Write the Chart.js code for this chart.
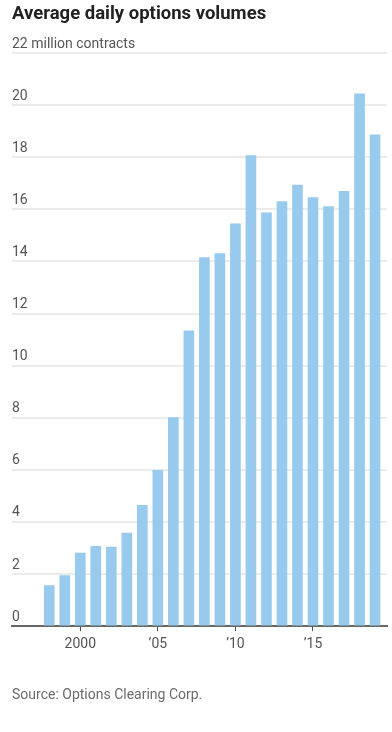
<!DOCTYPE html>
<html>
<head>
<meta charset="utf-8">
<script src="https://cdn.jsdelivr.net/npm/chart.js@4"></script>
<style>
  body { margin: 0; background: #fff; font-family: Roboto, "Noto Sans", sans-serif; }
  #wrap { position: relative; width: 392px; height: 732px; }
  #title { position: absolute; left: 12px; top: 2px; font-size: 18.5px; font-weight: bold; color: #222; }
  #source { position: absolute; left: 12px; top: 686px; font-size: 14px; color: #6b6b6b; }
  canvas { position: absolute; left: 0; top: 0; }
</style>
</head>
<body>
<div id="wrap">
  <canvas id="chart" width="392" height="732"></canvas>
  <div id="title">Average daily options volumes</div>
  <div id="source">Source: Options Clearing Corp.</div>
</div>
<script>
var years = [1998, 1999, 2000, 2001, 2002, 2003, 2004, 2005, 2006, 2007, 2008,
             2009, 2010, 2011, 2012, 2013, 2014, 2015, 2016, 2017, 2018, 2019];
var volumes = [1.56, 1.94, 2.81, 3.07, 3.04, 3.57, 4.64, 5.98, 8.01, 11.34, 14.15,
               14.30, 15.44, 18.06, 15.87, 16.30, 16.93, 16.45, 16.11, 16.69, 20.43, 18.86];
var xTicks = [2000, 2005, 2010, 2015];
var xTickLabels = ['2000', '\u201905', '\u201910', '\u201915'];
var yTicks = [0, 2, 4, 6, 8, 10, 12, 14, 16, 18, 20, 22];

var points = [];
for (var i = 0; i < years.length; i++) {
	points.push({ x: years[i], y: volumes[i] });
}

var context = document.getElementById('chart').getContext('2d');
var chart = new Chart(context, {
	type: 'bar',
	data: {
		datasets: [{
			data: points,
			backgroundColor: '#97caed',
			borderWidth: 0,
			barThickness: 10
		}]
	},
	options: {
		responsive: false,
		animation: false,
		layout: { padding: { left: 12, right: 5, top: 53, bottom: 74 } },
		plugins: { legend: { display: false }, tooltip: { enabled: false } },
		scales: {
			x: {
				type: 'linear',
				offset: false,
				min: 1995.6,
				max: 2019.77,
				afterBuildTicks: function (axis) {
					axis.ticks = xTicks.map(function (v) { return { value: v }; });
				},
				ticks: {
					autoSkip: false,
					maxRotation: 0,
					color: '#555',
					font: { family: 'Roboto', size: 14 },
					padding: 5,
					callback: function (v) {
						var idx = xTicks.indexOf(v);
						return idx >= 0 ? xTickLabels[idx] : '';
					}
				},
				grid: { offset: false, drawOnChartArea: false, tickLength: 5, color: '#555', tickWidth: 1 },
				border: { display: true, color: '#666', width: 2 }
			},
			y: {
				min: 0,
				max: 22,
				afterBuildTicks: function (axis) {
					axis.ticks = yTicks.map(function (v) { return { value: v }; });
				},
				ticks: {
					mirror: true,
					padding: 0,
					labelOffset: -9,
					color: '#555',
					font: { family: 'Roboto', size: 14 },
					callback: function (v) {
						return v === 22 ? '22 million contracts' : String(v);
					}
				},
				grid: { color: '#ebebeb', lineWidth: 2, drawTicks: false },
				border: { display: false }
			}
		}
	}
});
</script>
</body>
</html>
